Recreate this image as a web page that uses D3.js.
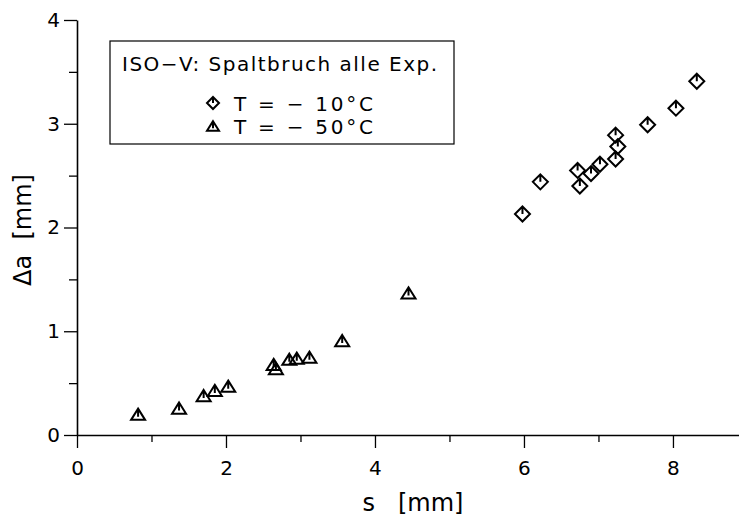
<!DOCTYPE html>
<html>
<head>
<meta charset="utf-8">
<script src="https://d3js.org/d3.v7.min.js"></script>
<style>
  body { margin: 0; background: #fff; }
  text { font-family: "DejaVu Sans", sans-serif; fill: #000; }
</style>
</head>
<body>
<div id="chart"></div>
<script>
const width = 739;
const height = 520;

// T = -10°C (diamonds)
const s10 = [5.98, 6.22, 6.72, 6.75, 6.90, 7.02, 7.23, 7.26, 7.23, 7.66, 8.04, 8.32];
const a10 = [2.13, 2.44, 2.55, 2.40, 2.52, 2.61, 2.89, 2.78, 2.66, 2.99, 3.15, 3.41];
// T = -50°C (triangles)
const s50 = [0.82, 1.37, 1.70, 1.85, 2.03, 2.64, 2.67, 2.85, 2.95, 3.12, 3.56, 4.45];
const a50 = [0.20, 0.26, 0.38, 0.43, 0.47, 0.68, 0.64, 0.73, 0.74, 0.75, 0.91, 1.37];

const xTicks = [0, 2, 4, 6, 8];
const yTicks = [0, 1, 2, 3, 4];
const legendTitle = "ISO\u2212V: Spaltbruch alle Exp.";
const legendLabels = ["T = \u2212 10\u00B0C", "T = \u2212 50\u00B0C"];

const x = d3.scaleLinear().domain([0, 8.9]).range([77, 740]);
const y = d3.scaleLinear().domain([0, 4]).range([435, 20]);

const svg = d3.select("#chart").append("svg")
    .attr("width", width)
    .attr("height", height);

// minor ticks first
svg.append("g")
    .attr("transform", "translate(0,435)")
    .call(d3.axisBottom(x).tickValues([1, 3, 5, 7]).tickSize(7).tickFormat(""))
    .call(g => g.select(".domain").remove())
    .call(g => g.selectAll("line").attr("stroke-width", 1.3));

svg.append("g")
    .attr("transform", "translate(77,0)")
    .call(d3.axisLeft(y).tickValues([0.5, 1.5, 2.5, 3.5]).tickSize(8).tickFormat(""))
    .call(g => g.select(".domain").remove())
    .call(g => g.selectAll("line").attr("stroke-width", 1.3));

// major axes
const xAxis = svg.append("g")
    .attr("transform", "translate(0,435)")
    .call(d3.axisBottom(x).tickValues(xTicks).tickSize(13).tickSizeOuter(0).tickPadding(13).tickFormat(d3.format("d")));
xAxis.select(".domain").attr("stroke-width", 1.6);
xAxis.selectAll("line").attr("stroke-width", 1.3);
xAxis.selectAll("text").attr("font-size", 20).attr("font-family", "DejaVu Sans");

const yAxis = svg.append("g")
    .attr("transform", "translate(77,0)")
    .call(d3.axisLeft(y).tickValues(yTicks).tickSize(13).tickSizeOuter(0).tickPadding(4).tickFormat(d3.format("d")));
yAxis.select(".domain").attr("stroke-width", 1.6);
yAxis.selectAll("line").attr("stroke-width", 1.3);
yAxis.selectAll("text").attr("font-size", 20).attr("font-family", "DejaVu Sans");

// axis titles
svg.append("text")
    .attr("x", 413)
    .attr("y", 511)
    .attr("text-anchor", "middle")
    .attr("font-size", 24)
    .style("white-space", "pre")
    .text("s   [mm]");

svg.append("text")
    .attr("transform", "translate(31,230) rotate(-90)")
    .attr("text-anchor", "middle")
    .attr("font-size", 24)
    .style("white-space", "pre")
    .text("\u0394a  [mm]");

// marker shapes
function diamond(r) {
    return `M0,${-r}L${r},0L0,${r}L${-r},0Z M0,${-r}L0,0`;
}
function triangle(r) {
    const h = r * 0.8;
    return `M0,${-h}L${r},${h}L${-r},${h}Z M0,${-h}L0,${h * 0.45}`;
}

svg.append("g").selectAll("path")
    .data(s10)
    .join("path")
    .attr("transform", (d, i) => `translate(${x(d)},${y(a10[i])})`)
    .attr("d", diamond(7.5))
    .attr("fill", "none")
    .attr("stroke", "#000")
    .attr("stroke-width", 2);

svg.append("g").selectAll("path")
    .data(s50)
    .join("path")
    .attr("transform", (d, i) => `translate(${x(d)},${y(a50[i])})`)
    .attr("d", triangle(7))
    .attr("fill", "none")
    .attr("stroke", "#000")
    .attr("stroke-width", 2);

// legend
const legend = svg.append("g");
legend.append("rect")
    .attr("x", 110)
    .attr("y", 41)
    .attr("width", 344)
    .attr("height", 103)
    .attr("fill", "#fff")
    .attr("stroke", "#000")
    .attr("stroke-width", 1.2);

legend.append("text")
    .attr("x", 122)
    .attr("y", 71)
    .attr("font-size", 20)
    .attr("textLength", 315)
    .attr("lengthAdjust", "spacing")
    .text(legendTitle);

const legendShapes = [diamond(6), triangle(6)];
legendLabels.forEach((lab, i) => {
    legend.append("path")
        .attr("transform", `translate(213,${103 + i * 23})`)
        .attr("d", legendShapes[i])
        .attr("fill", "none")
        .attr("stroke", "#000")
        .attr("stroke-width", 2);
    legend.append("text")
        .attr("x", 234)
        .attr("y", 111 + i * 23)
        .attr("font-size", 20)
        .attr("textLength", 139)
        .attr("lengthAdjust", "spacing")
        .style("white-space", "pre")
        .text(lab);
});
</script>
</body>
</html>
